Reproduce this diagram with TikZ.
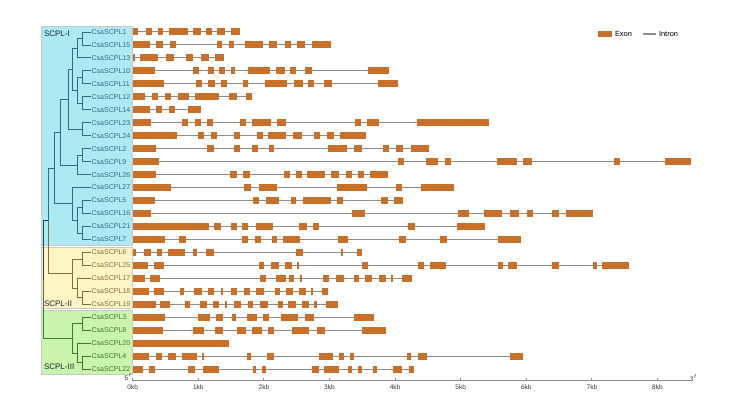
\documentclass[tikz,border=0pt]{standalone}
\usepackage{fontspec}
\setmainfont{Liberation Sans}
\definecolor{exonc}{RGB}{200,112,40}
\definecolor{intronc}{RGB}{140,140,140}
\definecolor{boxI}{RGB}{172,233,243}
\definecolor{boxII}{RGB}{255,244,198}
\definecolor{boxIII}{RGB}{202,244,172}
\definecolor{treeIc}{RGB}{45,110,128}
\definecolor{treeIIc}{RGB}{128,110,62}
\definecolor{treeIIIc}{RGB}{62,118,52}
\definecolor{cladec}{RGB}{25,35,55}

\tikzset{every picture/.style={line width=0.75pt}}
\tikzset{
  exon/.style={fill=exonc},
  intron/.style={draw=intronc, line width=0.8pt},
  clade/.style={draw={rgb,255:red,200;green,200;blue,200}, line width=0.4pt},
  gene/.style={anchor=west, inner sep=0.5pt, font=\fontsize{5.25}{6}\selectfont},
  cladetxt/.style={anchor=west, inner sep=0pt, text=cladec, font=\fontsize{6}{7}\selectfont},
  branch/.style={line width=0.6pt},
  kbtxt/.style={inner sep=0pt, text=black!80, font=\fontsize{4.9}{5.5}\selectfont}
}

\begin{document}
\begin{tikzpicture}[x=0.75pt,y=0.75pt,yscale=-1,xscale=1]
\useasboundingbox (0,0) rectangle (731,394);

%Shape: Rectangle
\draw[clade, fill=boxI] (41.7,26.5) rectangle (132.3,245.5);
\draw[clade, fill=boxII] (41.7,247.5) rectangle (132.3,308.5);
\draw[clade, fill=boxIII] (41.7,310.5) rectangle (132.3,374.5);

% Text Node
\node[cladetxt] (cI) at (43.5,33.5) {SCPL-I};
\node[cladetxt] (cII) at (43.5,303.5) {SCPL-II};
\node[cladetxt] (cIII) at (43.5,367) {SCPL-III};

% gene labels
\foreach \g/\y in {1/31.9,15/44.9,13/57.8,10/70.8,11/83.8,12/96.8,14/109.7,23/122.7,24/135.7,
  2/148.6,9/161.6,26/174.6,27/187.5,5/200.5,16/213.5,21/226.5,7/239.4}
  \node[gene, text=treeIc] (scpl\g) at (90.5,\y) {CsaSCPL\g};
\foreach \g/\y in {6/252.4,25/265.4,17/278.3,18/291.3,19/304.3}
  \node[gene, text=treeIIc] (scpl\g) at (90.5,\y) {CsaSCPL\g};
\foreach \g/\y in {3/317.2,8/330.2,20/343.2,4/356.2,22/369.1}
  \node[gene, text=treeIIIc] (scpl\g) at (90.5,\y) {CsaSCPL\g};

% tree nodes
\coordinate (n1) at (82.3,38.4);
\coordinate (n2) at (77.7,48.1);
\coordinate (n3) at (82.3,77.3);
\coordinate (n4) at (82.3,103.2);
\coordinate (n5) at (77.7,90.3);
\coordinate (n6) at (72.3,69.2);
\coordinate (n7) at (82.3,129.2);
\coordinate (n8) at (68.3,99.2);
\coordinate (n9) at (82.3,155.1);
\coordinate (n10) at (77.7,164.9);
\coordinate (n11) at (82.3,207.0);
\coordinate (n12) at (82.3,232.9);
\coordinate (n13) at (77.7,220.0);
\coordinate (n14) at (72.7,203.8);
\coordinate (n16) at (60.7,132.0);
\coordinate (rI) at (54.0,167.9);
\coordinate (m1) at (82.3,258.9);
\coordinate (m2) at (82.3,297.8);
\coordinate (m3) at (77.7,288.1);
\coordinate (m4) at (72.7,273.5);
\coordinate (rIII) at (48.3,220.7);
\coordinate (k1) at (82.3,323.7);
\coordinate (k2) at (82.3,362.6);
\coordinate (k3) at (77.7,352.9);
\coordinate (k4) at (72.7,338.3);
\coordinate (root) at (43.3,279.5);

%Straight Lines
\foreach \p/\c in {n1/scpl1.west,n1/scpl15.west,n2/n1,n2/scpl13.west,n3/scpl10.west,n3/scpl11.west,
  n4/scpl12.west,n4/scpl14.west,n5/n3,n5/n4,n6/n2,n6/n5,n7/scpl23.west,n7/scpl24.west,n8/n6,n8/n7,
  n9/scpl2.west,n9/scpl9.west,n10/n9,n10/scpl26.west,n16/n8,n16/n10,n11/scpl5.west,n11/scpl16.west,
  n12/scpl21.west,n12/scpl7.west,n13/n11,n13/n12,n14/scpl27.west,n14/n13,rI/n16,rI/n14}
  \draw[branch, treeIc] (\p) |- (\c);
\foreach \p/\c in {m1/scpl6.west,m1/scpl25.west,m2/scpl18.west,m2/scpl19.west,m3/scpl17.west,m3/m2,
  m4/m1,m4/m3}
  \draw[branch, treeIIc] (\p) |- (\c);
\foreach \p/\c in {k1/scpl3.west,k1/scpl8.west,k2/scpl4.west,k2/scpl22.west,k3/scpl20.west,k3/k2,
  k4/k1,k4/k3}
  \draw[branch, treeIIIc] (\p) |- (\c);
\draw[branch, treeIc] (rIII) |- (rI);
\draw[branch, treeIIc] (rIII) |- (m4);
\draw[branch, treeIc!60!black] (root) |- (rIII);
\draw[branch, treeIIIc] (root) |- (k4);

% gene structures: row y / last base / exons
\foreach \y/\e/\ex in {
 31.9/240/{132.7/138,145.7/151.7,158.3/163.3,169/187.7,192.7/200.7,206/212,217.3/225.3,230.7/240},
 44.9/330.7/{132.7/150,156/162.7,170/176,216.7/222,229/234,245/263.3,269/277.3,284.7/290.7,297.3/305,312.3/330.7},
 57.8/224/{132.7/135.3,140/158.3,166/174,186/192.7,201.3/209.3,215/224},
 70.8/389.3/{132.7/155,192.7/199.3,207.7/214,219.3/225.3,230.7/235.3,248.3/270,276/284.7,290/296,305/312.3,368.3/389.3},
 83.8/398.3/{132.7/164.3,196/202.3,208.3/215,220.7/226.7,242.7/247.7,265/286.7,294/302.7,308.3/314.3,324/332,377.7/398.3},
 96.8/252.3/{132.7/145.3,151.7/158,165/171,178.3/189,195/219,228.7/236.7,246/252.3},
 109.7/201/{132.7/150,155.7/162.3,169/175.3,188.3/201},
 122.7/488.7/{132.7/150.7,182/187.7,195/200.7,207.3/213.3,240/245.7,252.3/271,277.3/286,355.3/361,367/379.3,417.3/488.7},
 135.7/365.7/{132.7/177.3,198.3/204.3,210.7/216.7,234.3/240,257.3/262.7,268.3/286,292.7/301.7,314/320,326.7/334,340/365.7},
 148.6/428.7/{132.7/156,207.3/214.3,234/240,252/257.7,268.7/274,328.3/346.7,354/362.3,383.3/389,396/403.3,411/428.7},
 161.6/690.7/{132.7/159.3,397.7/404.3,425.7/437.7,445.3/450.7,497.3/517,523.3/532,614.3/620.3,665/690.7},
 174.6/387.7/{132.7/156.3,230/237.3,243.3/249.7,284/290,295.7/301.7,306.7/325,330.7/339.3,346/351.7,357.7/364.3,370/387.7},
 187.5/454.3/{132.7/170.7,244/251,259.3/277.3,336.7/367.3,395.7/402.3,421/454.3},
 200.5/403.3/{132.7/154.7,252.7/259.3,266/278.7,290.7/296,302.7/330.7,336.7/342.7,381/387.7,393.7/403.3},
 213.5/593.3/{132.7/150.7,351.7/365,457.7/469.3,484/502,509.7/518.7,526.7/533.3,551.7/558.7,566/593.3},
 226.5/485/{132.7/209,214.3/220.7,230.7/236.7,242.3/248,256/273.3,299/307.3,312.7/319,408.3/415,456.7/485},
 239.4/521.3/{132.7/165,178.7/186,242.3/248.3,254.7/260.7,271.7/277.3,283.3/300.3,338.3/347.7,399/405.7,440/446.7,498.3/521.3},
 252.4/362.3/{132.7/135.7,144/150.7,156.7/162,168.3/185,192.7/197.3,206/214,295.7/302.7,340.7/343.3,356.7/362.3},
 265.4/629/{132.7/147.7,154.3/164.3,259.3/264.3,270.7/278.7,285.3/292,296.7/299,361.7/368.3,418.3/424.3,430/446,498.3/503.3,508.3/516.7,551.7/559,593.3/596.7,602.3/629},
 278.3/411.7/{132.7/145,150/160,260/265.7,276/286,289/294.3,300/301.7,323.3/329,336/344,354.3/359.3,365/372.3,379/385.7,390.7/393.3,402.3/411.7},
 291.3/327.7/{132.7/149,154.3/164,180/184.3,194.3/202,208/214.3,221/223.3,231/237.3,244/250,256/264,275/280,285.7/292.7,298.7/306,311/313.3,322.3/327.7},
 304.3/337.7/{132.7/155.7,160/170,185.3/190,199.7/207.3,212.7/219,225/227.3,234/240.7,247.7/253.3,260/268,277.7/282.7,288.3/296,301.7/309,314.3/316.7,325.7/337.7},
 317.2/374/{132.7/165,198.3/210,216/223.3,231.7/235.7,246.7/256.7,263.3/269.3,280.7/297.7,305/314,354.3/374},
 330.2/386/{132.7/162.7,192.7/204.3,215/223.3,236.7/246,252/262,268.3/274,292.3/309.3,316.7/325.3,361.7/386},
 343.2/229.3/{132.7/229.3},
 356.2/522.7/{132.7/149,155.7/162.3,168.3/175.7,181.7/197.3,201.7/204.3,247.3/251,266.7/274,319.3/333.3,339/344,350/354.3,407.3/410.7,418.3/427.3,510/522.7},
 369.1/414/{132.7/142.7,149/155,188.3/195,202.7/218.7,252.7/256,261.7/266,311.7/318.7,324.3/339,347.7/352.3,358.3/361.7,372.7/376.7,392.7/401.7,409.3/414}}
{
  \draw[intron] (132.7,\y) -- (\e,\y);
  \foreach \a/\b in \ex
    \fill[exon] (\a,\y-3.5) rectangle (\b,\y+3.5);
}

%Straight Lines: scale bar
\draw[intron] (132.7,380.7) -- (690,380.7);
\foreach \k in {0,...,8}
{
  \draw[intron] (132.7+65.6*\k,377.6) -- (132.7+65.6*\k,380.7);
  \node[kbtxt] (kb\k) at (132.7+65.6*\k,387) {\k kb};
}
\node[kbtxt] (p5) at (128.3,377.5) {5$'$};
\node[kbtxt] (p3) at (693.5,378) {3$'$};

% legend
\fill[exon] (598.3,31) rectangle (611.7,37);
\node[anchor=west, inner sep=0pt, font=\fontsize{5.6}{6.5}\selectfont] (lexon) at (614.5,34) {Exon};
\draw[intron] (642.7,34) -- (655.7,34);
\node[anchor=west, inner sep=0pt, font=\fontsize{5.6}{6.5}\selectfont] (lintron) at (658.5,34) {Intron};

\end{tikzpicture}
\end{document}
